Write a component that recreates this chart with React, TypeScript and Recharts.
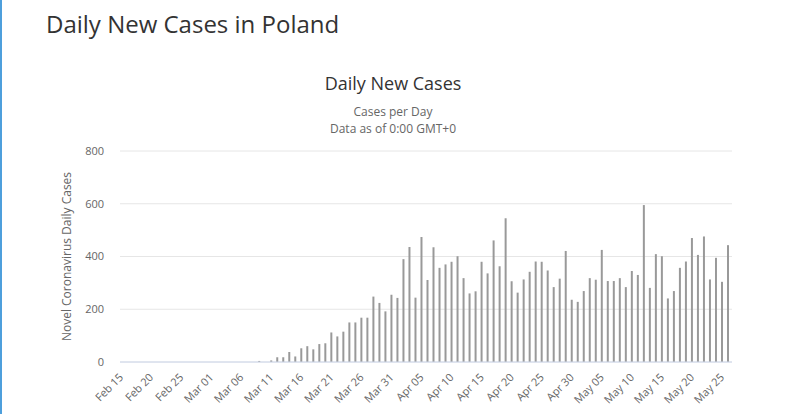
import { BarChart, Bar, XAxis, YAxis, CartesianGrid } from 'recharts';

// one label per day, Feb 15 .. May 25
const dates = [
  'Feb 15', 'Feb 16', 'Feb 17', 'Feb 18', 'Feb 19', 'Feb 20', 'Feb 21', 'Feb 22', 'Feb 23', 'Feb 24',
  'Feb 25', 'Feb 26', 'Feb 27', 'Feb 28', 'Feb 29',
  'Mar 01', 'Mar 02', 'Mar 03', 'Mar 04', 'Mar 05', 'Mar 06', 'Mar 07', 'Mar 08', 'Mar 09', 'Mar 10',
  'Mar 11', 'Mar 12', 'Mar 13', 'Mar 14', 'Mar 15', 'Mar 16', 'Mar 17', 'Mar 18', 'Mar 19', 'Mar 20',
  'Mar 21', 'Mar 22', 'Mar 23', 'Mar 24', 'Mar 25', 'Mar 26', 'Mar 27', 'Mar 28', 'Mar 29', 'Mar 30',
  'Mar 31',
  'Apr 01', 'Apr 02', 'Apr 03', 'Apr 04', 'Apr 05', 'Apr 06', 'Apr 07', 'Apr 08', 'Apr 09', 'Apr 10',
  'Apr 11', 'Apr 12', 'Apr 13', 'Apr 14', 'Apr 15', 'Apr 16', 'Apr 17', 'Apr 18', 'Apr 19', 'Apr 20',
  'Apr 21', 'Apr 22', 'Apr 23', 'Apr 24', 'Apr 25', 'Apr 26', 'Apr 27', 'Apr 28', 'Apr 29', 'Apr 30',
  'May 01', 'May 02', 'May 03', 'May 04', 'May 05', 'May 06', 'May 07', 'May 08', 'May 09', 'May 10',
  'May 11', 'May 12', 'May 13', 'May 14', 'May 15', 'May 16', 'May 17', 'May 18', 'May 19', 'May 20',
  'May 21', 'May 22', 'May 23', 'May 24', 'May 25',
];

const newCases = [
  0, 0, 0, 0, 0, 0, 0, 0, 0, 0,
  0, 0, 0, 0, 0,
  0, 0, 0, 0, 0, 0, 0, 4, 0, 6,
  18, 18, 38, 21, 52, 60, 48, 68, 71, 112,
  97, 115, 150, 150, 168, 168, 248, 224, 192, 255,
  243,
  390, 436, 244, 474, 311, 435, 357, 370, 380, 401,
  318, 260, 268, 380, 336, 461, 363, 545, 306, 263,
  313, 342, 381, 380, 347, 284, 316, 421, 236, 228,
  269, 318, 312, 425, 307, 307, 318, 284, 345, 330,
  595, 281, 409, 401, 241, 269, 357, 381, 470, 406,
  476, 313, 395, 304, 443,
];

const yTicks = [0, 200, 400, 600, 800];

const chartData = dates.map((date, i) => ({ date, cases: newCases[i] }));

function DateTick({ x, y, payload }: any) {
  const tx = x - 3;
  const ty = y + 16;
  return (
    <text x={tx} y={ty} transform={`rotate(-45 ${tx} ${ty})`} textAnchor="end" fontSize={11} fill="#666">
      {payload.value}
    </text>
  );
}

function YLabel({ viewBox }: any) {
  const lx = viewBox.x + 11;
  const ly = viewBox.y + viewBox.height / 2;
  return (
    <text x={lx} y={ly} transform={`rotate(-90 ${lx} ${ly})`} textAnchor="middle" fontSize={12} fill="#666">
      Novel Coronavirus Daily Cases
    </text>
  );
}

export default function App() {
  return (
    <div
      style={{
        position: 'absolute',
        left: 0,
        top: 0,
        width: 800,
        height: 414,
        background: '#fff',
        fontFamily: '"Open Sans", sans-serif',
        overflow: 'hidden',
      }}
    >
      <div style={{ position: 'absolute', left: 0, top: 0, width: 2, height: 414, background: '#4d9fdc' }} />
      <div style={{ position: 'absolute', left: 46, top: 12, fontSize: 24, lineHeight: 1, color: '#333', whiteSpace: 'nowrap' }}>
        Daily New Cases in Poland
      </div>
      <div style={{ position: 'absolute', left: 0, width: 786, top: 74, fontSize: 18, lineHeight: 1, color: '#333', textAlign: 'center' }}>
        Daily New Cases
      </div>
      <div style={{ position: 'absolute', left: 0, width: 786, top: 105, fontSize: 12, lineHeight: '14px', color: '#666', textAlign: 'center' }}>
        Cases per Day
      </div>
      <div style={{ position: 'absolute', left: 0, width: 786, top: 122, fontSize: 12, lineHeight: '14px', color: '#666', textAlign: 'center' }}>
        Data as of 0:00 GMT+0
      </div>

      <BarChart
        width={800}
        height={414}
        data={chartData}
        margin={{ top: 151, right: 68, bottom: 0, left: 60 }}
        style={{ position: 'absolute', left: 0, top: 0 }}
      >
        <CartesianGrid vertical={false} stroke="#e6e6e6" />
        <XAxis
          dataKey="date"
          height={52}
          interval={4}
          padding={{ left: 4, right: 1 }}
          tickLine={false}
          tickSize={0}
          tickMargin={0}
          axisLine={{ stroke: '#ccd6eb' }}
          tick={<DateTick />}
        />
        <YAxis
          width={60}
          domain={[0, 800]}
          ticks={yTicks}
          tickLine={false}
          axisLine={false}
          tickMargin={10}
          tick={{ fontSize: 11, fill: '#666' }}
          label={<YLabel />}
        />
        <Bar dataKey="cases" fill="#999" barSize={2} isAnimationActive={false} />
      </BarChart>
    </div>
  );
}
